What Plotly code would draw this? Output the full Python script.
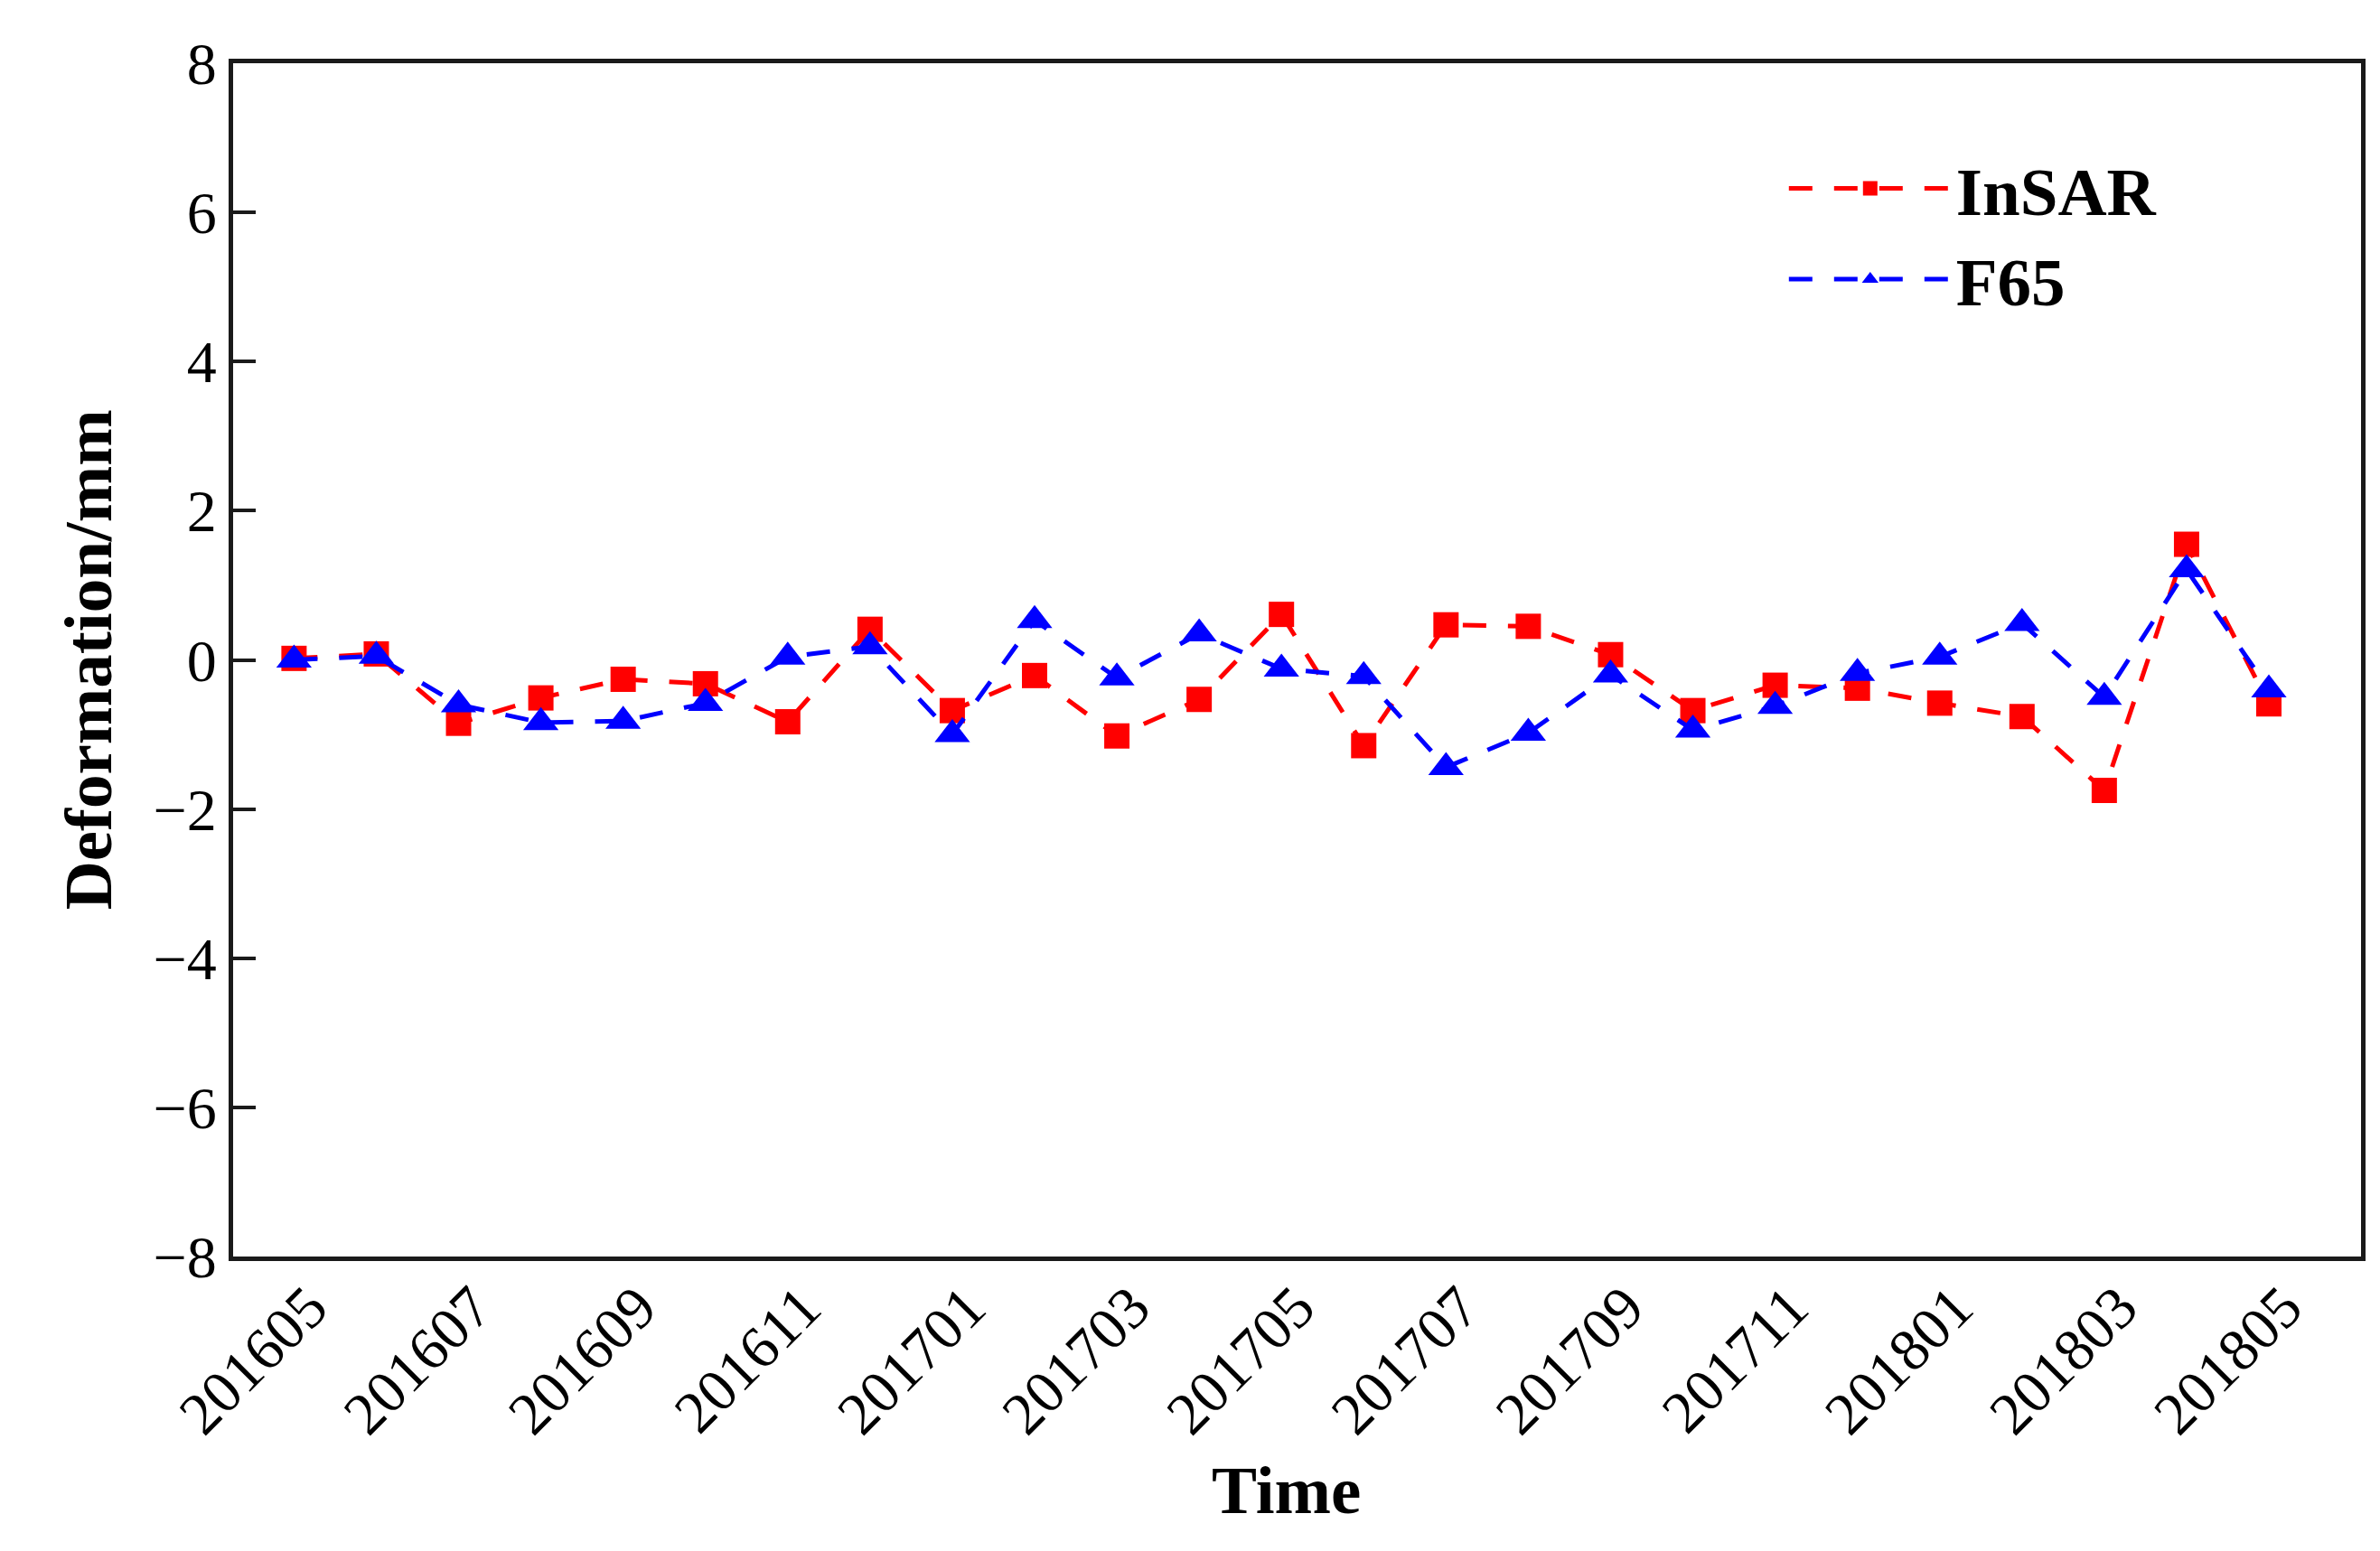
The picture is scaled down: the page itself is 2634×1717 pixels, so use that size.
import plotly.graph_objects as go

months = ["201605", "201606", "201607", "201608", "201609", "201610", "201611",
          "201612", "201701", "201702", "201703", "201704", "201705", "201706",
          "201707", "201708", "201709", "201710", "201711", "201712", "201801",
          "201802", "201803", "201804", "201805"]

insar = [0.02, 0.08, -0.85, -0.51, -0.26, -0.32, -0.83, 0.41, -0.68, -0.21,
         -1.02, -0.53, 0.61, -1.15, 0.47, 0.45, 0.07, -0.68, -0.34, -0.38,
         -0.58, -0.76, -1.75, 1.55, -0.59]

f65 = [0.0, 0.05, -0.60, -0.84, -0.82, -0.58, 0.04, 0.18, -1.00, 0.53,
       -0.24, 0.35, -0.12, -0.22, -1.44, -0.98, -0.20, -0.94, -0.62, -0.18,
       0.04, 0.49, -0.50, 1.21, -0.40]

tick_labels = ["201605", "201607", "201609", "201611", "201701", "201703",
               "201705", "201707", "201709", "201711", "201801", "201803",
               "201805"]

y_ticks = [-8, -6, -4, -2, 0, 2, 4, 6, 8]

SERIF = "Liberation Serif, Times New Roman, serif"

fig = go.Figure()
fig.add_trace(go.Scatter(
    x=months, y=insar, name="InSAR", mode="lines+markers",
    line=dict(color="#FF0000", width=5, dash="26px,24px"),
    marker=dict(symbol="square", size=28, color="#FF0000"),
))
fig.add_trace(go.Scatter(
    x=months, y=f65, name="F65", mode="lines+markers",
    line=dict(color="#0000FF", width=5, dash="26px,24px"),
    marker=dict(symbol="triangle-up", size=34, color="#0000FF"),
))

fig.update_layout(
    width=2634, height=1717,
    margin=dict(l=250, r=29, t=62, b=334),
    paper_bgcolor="white", plot_bgcolor="white",
    font=dict(family=SERIF, color="black"),
    showlegend=True,
    legend=dict(
        x=0.729, y=0.937, xanchor="left", yanchor="top",
        bgcolor="rgba(0,0,0,0)",
        font=dict(family=SERIF, size=75, color="black", weight="bold"),
        itemwidth=180,
        tracegroupgap=0,
    ),
    annotations=[
        dict(text="<b>Deformation/mm</b>", xref="paper", yref="paper",
             x=-0.068, y=0.5, xanchor="center", yanchor="middle",
             textangle=-90, showarrow=False,
             font=dict(family=SERIF, size=75, color="black")),
        dict(text="<b>Time</b>", xref="paper", yref="paper",
             x=0.495, y=-0.196, xanchor="center", yanchor="middle",
             showarrow=False,
             font=dict(family=SERIF, size=75, color="black")),
    ],
)

fig.update_xaxes(
    type="category", categoryorder="array", categoryarray=months,
    range=[-0.74, 25.12],
    tickmode="array", tickvals=tick_labels, ticktext=tick_labels,
    tickangle=-45, ticks="", ticklabelshift=17, ticklabelstandoff=-14,
    tickfont=dict(family=SERIF, size=66, color="black"),
    showline=True, linecolor="#1a1a1a", linewidth=5, mirror=True,
    showgrid=False, zeroline=False,
)
fig.update_yaxes(
    range=[-8, 8], tickmode="array", tickvals=y_ticks,
    ticks="inside", ticklen=25, tickwidth=4, tickcolor="#1a1a1a",
    tickfont=dict(family=SERIF, size=66, color="black"),
    showline=True, linecolor="#1a1a1a", linewidth=5, mirror=True,
    showgrid=False, zeroline=False,
)

fig.write_html("out.html")
